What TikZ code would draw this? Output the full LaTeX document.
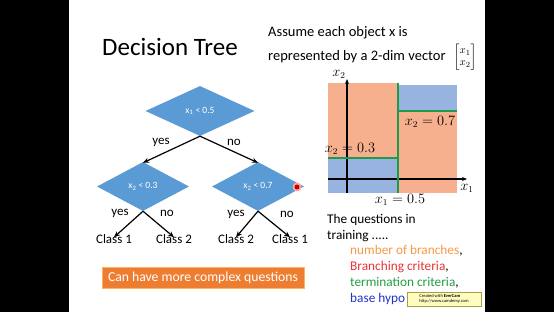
\documentclass[tikz,border=0pt]{standalone}
\usepackage{amsmath}
\usepackage{fontspec}
\setmainfont{Carlito}
\usetikzlibrary{shapes.geometric,arrows.meta}
\definecolor{dblue}{HTML}{5B9BD5}
\definecolor{bgorange}{HTML}{ED7D31}
\definecolor{reg1}{HTML}{F6B08E}
\definecolor{reg2}{HTML}{97B4E0}
\definecolor{gline}{HTML}{1E9A4C}
\definecolor{torange}{HTML}{F79A45}
\definecolor{tred}{HTML}{EE3333}
\definecolor{tgreen}{HTML}{22A044}
\definecolor{tblue}{HTML}{2233CC}
\tikzset{
  dec/.style={diamond, fill=dblue, minimum width=109pt, minimum height=50pt, inner sep=0pt, text=white, font=\fontsize{9.5}{10}\selectfont},
  decs/.style={dec, minimum width=92pt, minimum height=49pt},
  lbl/.style={font=\fontsize{13}{15}\selectfont, inner sep=0pt},
  leaf/.style={font=\fontsize{13}{15}\selectfont, inner sep=0pt, anchor=center},
  arr/.style={-{Stealth[length=6pt,width=5pt]}, line width=1.2pt, black},
  txt/.style={font=\fontsize{14.5}{16}\selectfont, anchor=west, inner sep=0pt},
  qtxt/.style={font=\fontsize{13.3}{15}\selectfont, anchor=west, inner sep=0pt},
  mth/.style={font=\fontsize{13.4}{15}\selectfont, inner sep=0pt},
  gl/.style={gline, line width=1.8pt},
  ax/.style={-{Stealth[length=5pt,width=4pt]}, line width=1.1pt, black}
}
\begin{document}
\begin{tikzpicture}[x=1pt,y=-1pt]
\useasboundingbox (0,0) rectangle (554,312);
\fill[black] (0,0) rectangle (554,312);
\fill[white] (69,0) rectangle (485,312);
% title
\node[font=\fontsize{25}{28}\selectfont, inner sep=0pt] (title) at (170,47) {Decision Tree};
% tree
\node[dec] (root) at (200,111) {x\textsubscript{1} < 0.5};
\node[decs] (l) at (143,186.5) {x\textsubscript{2} < 0.3};
\node[decs] (r) at (258,186.5) {x\textsubscript{2} < 0.7};
\draw[arr] (root.south) -- ([yshift=-1pt]l.north);
\draw[arr] (root.south) -- ([yshift=-1pt]r.north);
\node[lbl] (y0) at (161,142) {yes};
\node[lbl] (n0) at (234,142) {no};
\node[leaf] (c1) at (114,239) {Class 1};
\node[leaf] (c2) at (174,239) {Class 2};
\node[leaf] (c3) at (236,239) {Class 2};
\node[leaf] (c4) at (290,239) {Class 1};
\draw[arr] (l.south) -- ([yshift=-3pt]c1.north);
\draw[arr] (l.south) -- ([yshift=-3pt]c2.north);
\draw[arr] (r.south) -- ([yshift=-3pt]c3.north);
\draw[arr] (r.south) -- ([yshift=-3pt]c4.north);
\node[lbl] (y1) at (120,213.5) {yes};
\node[lbl] (n1) at (167,213.5) {no};
\node[lbl] (y2) at (236,214) {yes};
\node[lbl] (n2) at (287,214) {no};
% cursor dot
\fill[red!35] (297,187) circle (4.5pt);
\fill[red!80!black] (297,187) circle (2.5pt);
% button
\node[fill=bgorange, draw=orange!60, line width=0.6pt, minimum width=202pt, minimum height=21pt, inner sep=0pt, text=white, font=\fontsize{13.7}{15}\selectfont] (btn) at (203,277.5) {Can have more complex questions};
% right text
\node[txt] (t1) at (268,33) {Assume each object x is};
\node[txt] (t2) at (268,57) {represented by a 2-dim vector};
\node[inner sep=0pt, font=\fontsize{11}{12}\selectfont] (vec) at (465,57) {$\begin{bmatrix}x_1\\x_2\end{bmatrix}$};
% plot
\fill[reg1] (328,83) rectangle (398,158);
\fill[reg2] (328,158) rectangle (398,193);
\fill[reg2] (398,85) rectangle (457,111);
\fill[reg1] (398,111) rectangle (457,193);
\draw[ax] (347,193) -- (347,79);
\draw[ax] (328,179) -- (467,179);
\draw[gl] (398,83) -- (398,193);
\draw[gl] (398,111) -- (457,111);
\draw[gl] (328,158) -- (398,158);
\node[mth] (ax2) at (339,74) {$x_2$};
\node[mth] (ax1) at (467,188) {$x_1$};
\node[mth] (l03) at (350,149) {$x_2=0.3$};
\node[mth] (l07) at (430,122) {$x_2=0.7$};
\node[mth] (l05) at (400,200) {$x_1=0.5$};
% questions
\node[qtxt] (q1) at (327,220) {The questions in};
\node[qtxt] (q2) at (327,236.5) {training .....};
\node[qtxt, text=torange] (q3) at (350,251) {number of branches\textcolor{black}{,}};
\node[qtxt, text=tred] (q4) at (350,267) {Branching criteria\textcolor{black}{,}};
\node[qtxt, text=tgreen] (q5) at (350,283) {termination criteria\textcolor{black}{,}};
\node[qtxt, text=tblue] (q6) at (350,298.5) {base hypo};
% watermark
\node[fill=yellow!25, draw=yellow!60!black, line width=0.4pt, minimum width=74pt, minimum height=14pt, inner sep=0.5pt, font=\fontsize{4.5}{5}\selectfont, align=left] (wm) at (444,299) {Created with \textbf{EverCam}\\http://www.camdemy.com};
\end{tikzpicture}
\end{document}
